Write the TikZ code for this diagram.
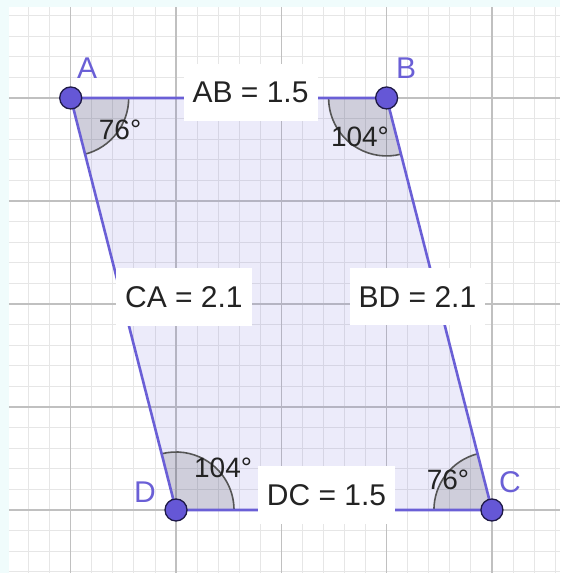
\documentclass[tikz,border=0pt]{standalone}
\usepackage{fontspec}
\setmainfont{Liberation Sans}
\usetikzlibrary{angles}

\definecolor{edgeblue}{RGB}{106,95,214}
\definecolor{ptblue}{RGB}{101,87,214}
\definecolor{ptedge}{RGB}{30,25,70}
\definecolor{arcgray}{RGB}{85,85,85}
\definecolor{bgcyan}{RGB}{240,252,252}
\definecolor{minorgray}{RGB}{230,230,230}
\definecolor{majorgray}{RGB}{192,192,192}
\definecolor{txtgray}{RGB}{35,35,35}

\begin{document}
\begin{tikzpicture}[x=105.3pt, y=103pt,
    side/.style={edgeblue, line width=2.6pt},
    lenlabel/.style={fill=white, text=txtgray, font=\fontsize{30}{36}\selectfont, inner xsep=9pt, inner ysep=18pt},
    anglabel/.style={text=txtgray, font=\fontsize{28}{34}\selectfont, inner sep=1pt},
    ptlabel/.style={text=edgeblue, font=\fontsize{30}{36}\selectfont},
    vtx/.style={fill=ptblue, draw=ptedge, line width=1.3pt},
    sector/.style={draw=arcgray, fill=black, fill opacity=0.12, line width=1.6pt, angle radius=58pt}]

    % background and grid
    \fill[bgcyan] (-0.6714,-0.6117) rectangle (4.6467,4.951);
    \useasboundingbox (-0.6714,-0.6117) rectangle (4.6467,4.951);
    \fill[white] (-0.586,-0.6117) rectangle (4.6467,4.883);
    \draw[minorgray, line width=0.8pt, step=0.2] (-0.586,-0.6117) grid (4.6467,4.883);
    \draw[majorgray, line width=1.2pt, step=1] (-0.586,-0.6117) grid (4.6467,4.883);

    \coordinate (A) at (0,4);
    \coordinate (B) at (3,4);
    \coordinate (C) at (4,0);
    \coordinate (D) at (1,0);

    \fill[edgeblue, fill opacity=0.12] (A) -- (B) -- (C) -- (D) -- cycle;

    % angles
    \pic[sector] {angle=D--A--B};
    \pic[sector] {angle=A--B--C};
    \pic[sector] {angle=B--C--D};
    \pic[sector] {angle=C--D--A};

    \draw[side] (A) -- (B) -- (C) -- (D) -- cycle;

    % side lengths
    \node[lenlabel] (ab) at (1.708,4.053) {AB = 1.5};
    \node[lenlabel] (dc) at (2.429,0.146) {DC = 1.5};
    \node[lenlabel] (ca) at (1.075,2.068) {CA = 2.1};
    \node[lenlabel] (bd) at (3.293,2.068) {BD = 2.1};

    \node[anglabel] (angA) at (0.469,3.689) {76°};
    \node[anglabel] (angB) at (2.747,3.621) {104°};
    \node[anglabel] (angD) at (1.447,0.408) {104°};
    \node[anglabel] (angC) at (3.583,0.291) {76°};

    % points
    \foreach \p in {A,B,C,D} {
        \path[vtx] (\p) circle (11pt);
    }
    \node[ptlabel] (lA) at (0.155,4.291) {A};
    \node[ptlabel] (lB) at (3.184,4.291) {B};
    \node[ptlabel] (lC) at (4.172,0.272) {C};
    \node[ptlabel] (lD) at (0.706,0.175) {D};
\end{tikzpicture}
\end{document}
